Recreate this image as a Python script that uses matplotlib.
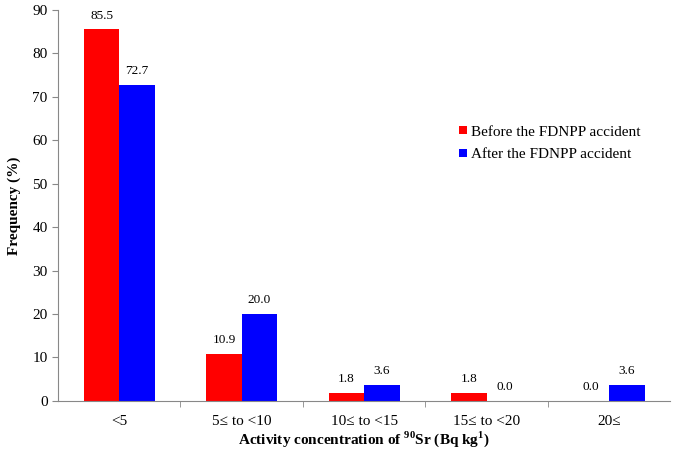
import matplotlib
matplotlib.use("Agg")
import matplotlib.pyplot as plt
import numpy as np

# Dados
categories = ["<5", "5\u2264 to <10", "10\u2264 to <15", "15\u2264 to <20", "20\u2264"]
before = [85.5, 10.9, 1.8, 1.8, 0.0]
after = [72.7, 20.0, 3.6, 0.0, 3.6]
series_names = ["Before the FDNPP accident", "After the FDNPP accident"]

plt.rcParams["font.family"] = ["Liberation Serif", "DejaVu Serif"]
plt.rcParams["mathtext.fontset"] = "custom"
plt.rcParams["mathtext.rm"] = "Liberation Serif"
plt.rcParams["mathtext.bf"] = "Liberation Serif:bold"

fig = plt.figure(figsize=(6.75, 4.51), dpi=100)
ax = fig.add_axes([0.086, 0.111, 0.907, 0.867])

x = np.arange(len(categories))
w = 0.29
b1 = ax.bar(x - w / 2, before, w, color="#ff0000", linewidth=0, label=series_names[0])
b2 = ax.bar(x + w / 2, after, w, color="#0000ff", linewidth=0, label=series_names[1])

for bars, vals in [(b1, before), (b2, after)]:
    for rect, v in zip(bars, vals):
        ax.text(rect.get_x() + rect.get_width() / 2, v + 1.8, "%.1f" % v,
                ha="center", va="bottom", fontsize=9.5)

ax.set_xlim(-0.5, len(categories) - 0.5)
ax.set_ylim(0, 90)
ax.set_yticks(range(0, 91, 10))
ax.set_xticks(x)
ax.set_xticklabels(categories, fontsize=11)
ax.set_xticks(np.arange(0.5, len(categories) - 0.5, 1), minor=True)
ax.tick_params(axis="x", which="major", length=0, pad=10)
ax.tick_params(axis="x", which="minor", length=4, color="#888888")
ax.tick_params(axis="y", labelsize=11, length=4, color="#888888")

for s in ["top", "right"]:
    ax.spines[s].set_visible(False)
for s in ["left", "bottom"]:
    ax.spines[s].set_color("#888888")

ax.set_ylabel("Frequency (%)", fontsize=11, fontweight="bold", labelpad=8)
ax.set_xlabel(r"Activity concentration of $^{\mathbf{90}}$Sr (Bq kg$^{\mathbf{1}}$)",
              fontsize=11, fontweight="bold", labelpad=1)

ax.legend(loc="upper left", bbox_to_anchor=(0.645, 0.72), frameon=False, fontsize=11,
          handlelength=0.5, handleheight=0.5, handletextpad=0.25, labelspacing=0.65,
          borderaxespad=0)

plt.savefig("out.png", dpi=100)
